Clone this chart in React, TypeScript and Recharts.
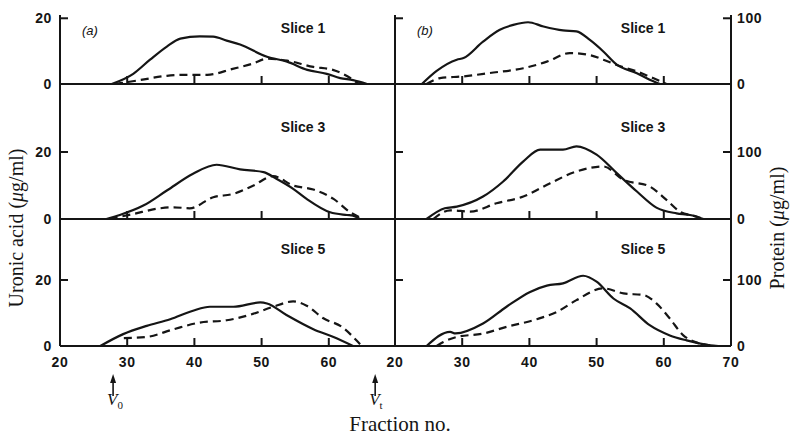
import { LineChart, Line, XAxis, YAxis } from 'recharts';

const INK = '#151515';
const SANS = '"Liberation Sans", Arial, Helvetica, sans-serif';
const SERIF = '"Liberation Serif", "Times New Roman", Times, serif';

// (a) solid = uronic acid (ug/ml), dashed = protein (ug/ml), x = fraction no.
const a1Uronic = [
  [27.7, 0], [30.9, 3.1], [33.4, 7.4], [35.9, 11.4], [37.9, 13.8], [40.8, 14.5], [42.8, 14.4],
  [44.8, 13.2], [46.8, 12], [50.8, 8.3], [53.8, 6.8], [56.8, 4.3], [59.7, 3.1], [61.7, 1.8],
  [63.6, 1.2], [65.7, 0],
];
const a1Protein = [
  [28.2, 0], [31.9, 6], [35.9, 12.5], [38.9, 14], [41.9, 14], [45.7, 23], [48.7, 31], [50.8, 38.5],
  [53.8, 35.5], [57.7, 26], [60.6, 21.5], [62.1, 15.5], [64.5, 0],
];
const a3Uronic = [
  [26.9, 0], [28.9, 1.2], [32.4, 4], [35.9, 8.5], [39.8, 13.5], [43.3, 16.2], [46.8, 14.8],
  [50.3, 14], [52.2, 12], [54.7, 9], [56.7, 6], [60.2, 2], [62.7, 1.2], [63.6, 1], [64.6, 0],
];
const a3Protein = [
  [27.4, 0], [30.9, 7.5], [34.9, 16], [36.9, 17.5], [39.3, 16], [42.8, 32.5], [45.8, 37.5],
  [48.8, 50], [51.7, 64], [54.7, 50], [57.7, 44], [60.7, 30], [63.2, 10], [65.1, 0],
];
const a5Uronic = [
  [26, 0], [29.4, 3.6], [32.9, 6.1], [36.4, 8.1], [39.8, 10.7], [42.3, 11.9], [45.8, 11.9],
  [49.8, 13.2], [50.8, 12.9], [53.7, 9.4], [57.7, 5.1], [60.7, 2.7], [63.6, 0],
];
const a5Protein = [
  [29.5, 12], [32.9, 13.7], [36.9, 25.4], [40.8, 35.5], [44.8, 39], [48.8, 49], [51.7, 59.4],
  [54.7, 67.5], [56.7, 61], [59.2, 42], [62.1, 28], [64.1, 8.6], [64.9, 0],
];

// (b)
const b1Uronic = [
  [24, 0], [26.2, 4], [29.2, 7.4], [30.2, 7.9], [33.1, 12.9], [35.6, 16.5], [37.6, 18], [39.8, 18.8],
  [42.1, 17.5], [45, 16.3], [47, 16], [49, 13.4], [51, 9.9], [53, 5.9], [56, 3.3], [57.9, 1.3], [59.4, 0],
];
const b1Protein = [
  [24.7, 0], [26.7, 9], [30.2, 11.6], [34.1, 16.7], [39.1, 24], [42.6, 34], [46, 47], [49, 44],
  [51, 37], [53, 29], [56, 19], [58.4, 9], [60.4, 0],
];
const b3Uronic = [
  [24.7, 0], [27.4, 3.2], [29.2, 3.7], [33.1, 6.7], [36.1, 11.2], [39.1, 17.2], [41.6, 20.7],
  [45, 20.7], [47, 21.7], [50, 19.2], [53, 13.7], [56, 8.2], [58.9, 3.4], [61.9, 1.7], [63.9, 1.2], [65.9, 0],
];
const b3Protein = [
  [25.7, 0], [28.2, 13], [31.2, 11], [35.1, 23.5], [39.1, 33.5], [43.1, 53.5], [47, 71], [51, 78.5],
  [54, 58.5], [57.9, 48.5], [60.4, 28.5], [62.4, 11], [64.9, 3.5], [65.9, 0],
];
const b5Uronic = [
  [24.7, 0], [28.2, 4.3], [29, 3.8], [33.1, 6.8], [36.6, 11.9], [40.1, 16.4], [42.6, 18.3], [45, 19],
  [48, 21.3], [50, 19.5], [52.5, 14.4], [55, 11.4], [57.9, 6.3], [60.9, 3.2], [63.4, 1.7], [66.9, 0.2], [68.1, 0],
];
const b5Protein = [
  [26.2, 0], [27.2, 6], [29.2, 13.7], [33.1, 18.8], [36.6, 29], [41.1, 40.6], [44.1, 51.8], [47, 69.5],
  [51, 87.3], [54, 79.7], [57, 77.2], [58.9, 64.5], [60.9, 41.6], [62.9, 16.2], [64.4, 7.1], [66.9, 1],
];

const sliceNames = ['Slice 1', 'Slice 3', 'Slice 5'];
const panelTags = ['(a)', '(b)'];
const xTicks = [20, 30, 40, 50, 60, 70];
const uronicTicks = [0, 20];
const proteinTicks = [0, 100];
const markers = [{ f: 27.9, sub: '0' }, { f: 66.9, sub: 't' }];
const uronicMax = [21, 40.3, 38.5];

const series = [
  [[a1Uronic, a1Protein], [b1Uronic, b1Protein]],
  [[a3Uronic, a3Protein], [b3Uronic, b3Protein]],
  [[a5Uronic, a5Protein], [b5Uronic, b5Protein]],
];

// layout
const PANEL_X = [60, 395];
const PANEL_W = [335, 336];
const ROW_TOP = [15, 84, 219];
const ROW_BOTTOM = [84, 219, 346];
const PAD = 40;
const AX = 1; // axis band size, kept tiny so the plot edge sits where the frame line is
const TICK = 8;

const numStyle = { fontFamily: SANS, fontWeight: 700, fontSize: 14, letterSpacing: 0.6, fill: INK };

const toPoints = (rows: number[][]) => rows.map(([f, v]) => ({ f, v }));

function FracTick({ x, y, payload, col, bottomRow }: any) {
  const v = payload.value;
  const marker = markers.find((m) => m.f === v);
  if (marker) {
    return (
      <g>
        <line x1={x} x2={x} y1={y + 34} y2={y + 50} stroke={INK} strokeWidth={1.6} />
        <path d={`M${x - 3},${y + 37} L${x},${y + 28} L${x + 3},${y + 37} Z`} fill={INK} />
        <text x={x - 6} y={y + 59} fontFamily={SERIF} fontSize={17} fill={INK}>
          <tspan fontStyle="italic">V</tspan>
          <tspan fontSize={11} dy={4}>{marker.sub}</tspan>
        </text>
      </g>
    );
  }
  const showLabel = bottomRow && !(col === 0 && v === 70);
  return (
    <g>
      {v > 20 && v < 70 && <line x1={x} x2={x} y1={y} y2={y - TICK} stroke={INK} strokeWidth={2} />}
      {showLabel && (
        <text x={x} y={y + 21} textAnchor="middle" {...numStyle}>
          {v}
        </text>
      )}
    </g>
  );
}

function UronicTick({ x, y, payload, labelled }: any) {
  const v = payload.value;
  return (
    <g>
      {v > 0 && <line x1={x} x2={x + TICK} y1={y} y2={y} stroke={INK} strokeWidth={2} />}
      {labelled && (
        <text x={x - 8} y={y} dy="0.36em" textAnchor="end" {...numStyle}>
          {v}
        </text>
      )}
    </g>
  );
}

function ProteinTick({ x, y, payload }: any) {
  const v = payload.value;
  return (
    <g>
      {v > 0 && <line x1={x - TICK} x2={x} y1={y} y2={y} stroke={INK} strokeWidth={2} />}
      <text x={x + 6} y={y} dy="0.36em" textAnchor="start" {...numStyle}>
        {v}
      </text>
    </g>
  );
}

function Panel({ row, col }: { row: number; col: number }) {
  const [uronic, protein] = series[row][col];
  const bottomRow = row === 2;
  const top = 10;
  const bottom = bottomRow ? 75 : 10;
  const w = PANEL_W[col] + PAD * 2;
  const h = ROW_BOTTOM[row] - ROW_TOP[row] + top + bottom;
  const uMax = uronicMax[row];
  const ticks = bottomRow && col === 0 ? [...xTicks, ...markers.map((m) => m.f)] : xTicks;
  const axisLine = { stroke: INK, strokeWidth: 2 };

  return (
    <div style={{ position: 'absolute', left: PANEL_X[col] - PAD, top: ROW_TOP[row] - top }}>
      <LineChart
        width={w}
        height={h}
        margin={{ top, right: PAD - AX, bottom: bottom - AX, left: PAD - AX }}
        style={{ overflow: 'visible' }}
      >
        <XAxis
          dataKey="f"
          type="number"
          domain={[20, 70]}
          ticks={ticks}
          interval={0}
          height={AX}
          tickSize={0}
          tickMargin={0}
          tickLine={false}
          axisLine={axisLine}
          tick={(p: any) => <FracTick {...p} col={col} bottomRow={bottomRow} />}
        />
        <YAxis
          yAxisId="u"
          orientation="left"
          type="number"
          width={AX}
          domain={[0, uMax]}
          ticks={uronicTicks}
          interval={0}
          tickSize={0}
          tickMargin={0}
          tickLine={false}
          axisLine={axisLine}
          tick={(p: any) => <UronicTick {...p} labelled={col === 0} />}
        />
        <YAxis
          yAxisId="p"
          orientation="right"
          type="number"
          width={AX}
          domain={[0, uMax * 5]}
          ticks={proteinTicks}
          interval={0}
          hide={col === 0}
          tickSize={0}
          tickMargin={0}
          tickLine={false}
          axisLine={axisLine}
          tick={(p: any) => <ProteinTick {...p} />}
        />
        <Line
          yAxisId="u"
          data={toPoints(uronic)}
          dataKey="v"
          type="monotone"
          stroke={INK}
          strokeWidth={2.2}
          dot={false}
          isAnimationActive={false}
        />
        <Line
          yAxisId="p"
          data={toPoints(protein)}
          dataKey="v"
          type="monotone"
          stroke={INK}
          strokeWidth={2.2}
          strokeDasharray="8 5"
          dot={false}
          isAnimationActive={false}
        />
      </LineChart>
    </div>
  );
}

const SLICE_CX = [303, 643];
const SLICE_BASE = [33, 132, 254];

export default function App() {
  return (
    <div
      style={{
        position: 'absolute',
        left: 0,
        top: 0,
        width: 792,
        height: 435,
        background: '#fff',
        overflow: 'hidden',
        fontFamily: SANS,
        color: INK,
      }}
    >
      {[0, 1, 2].map((row) => [0, 1].map((col) => <Panel key={`${row}-${col}`} row={row} col={col} />))}

      <svg width={792} height={435} style={{ position: 'absolute', left: 0, top: 0, pointerEvents: 'none' }}>
        {panelTags.map((t, col) => (
          <text key={t} x={PANEL_X[col] + 22} y={35} fontFamily={SANS} fontStyle="italic" fontSize={13} fill={INK}>
            {t}
          </text>
        ))}
        {sliceNames.map((s, row) =>
          SLICE_CX.map((cx) => (
            <text key={`${s}-${cx}`} x={cx} y={SLICE_BASE[row]} textAnchor="middle" fontFamily={SANS} fontWeight={700} fontSize={14} fill={INK}>
              {s}
            </text>
          ))
        )}
        <text x={0} y={0} transform="translate(23,228) rotate(-90)" textAnchor="middle" fontFamily={SERIF} fontSize={20} fill={INK}>
          Uronic acid (<tspan fontStyle="italic">μ</tspan>g/ml)
        </text>
        <text x={0} y={0} transform="translate(784,228) rotate(-90)" textAnchor="middle" fontFamily={SERIF} fontSize={20} fill={INK}>
          Protein (<tspan fontStyle="italic">μ</tspan>g/ml)
        </text>
        <text x={400} y={431} textAnchor="middle" fontFamily={SERIF} fontSize={21} fill={INK}>
          Fraction no.
        </text>
      </svg>
    </div>
  );
}
